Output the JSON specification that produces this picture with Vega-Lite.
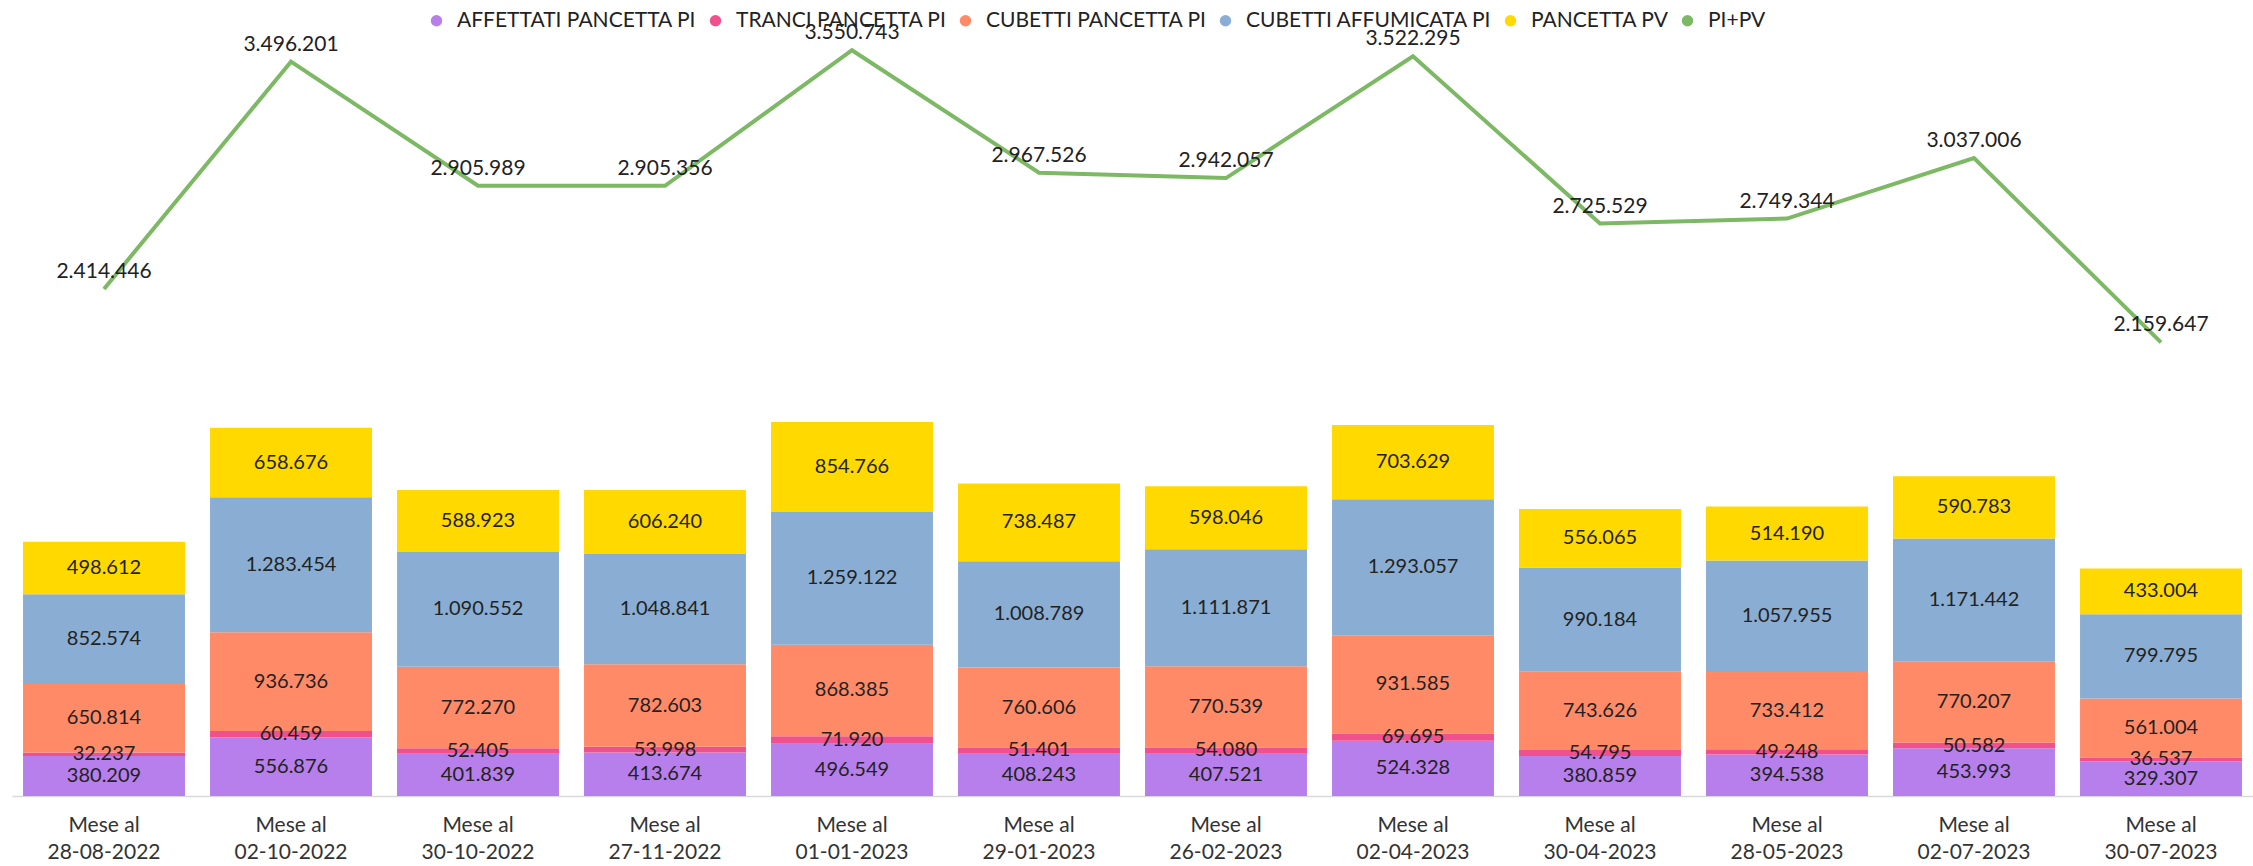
{
  "$schema": "https://vega.github.io/schema/vega-lite/v6.json",
  "width": 2241,
  "height": 754,
  "padding": {"left": 12, "top": 10, "right": 0, "bottom": 0},
  "autosize": {"type": "pad"},
  "background": "white",
  "config": {
    "locale": {"number": {"decimal": ",", "thousands": ".", "grouping": [3], "currency": ["", " €"]}},
    "view": {"stroke": null},
    "font": "Lato",
    "text": {"font": "Lato"}
  },
  "datasets": {
    "bars": [
      {"periodo": "Mese al 28-08-2022", "serie": "AFFETTATI PANCETTA PI", "valore": 380209},
      {"periodo": "Mese al 28-08-2022", "serie": "TRANCI PANCETTA PI", "valore": 32237},
      {"periodo": "Mese al 28-08-2022", "serie": "CUBETTI PANCETTA PI", "valore": 650814},
      {"periodo": "Mese al 28-08-2022", "serie": "CUBETTI AFFUMICATA PI", "valore": 852574},
      {"periodo": "Mese al 28-08-2022", "serie": "PANCETTA PV", "valore": 498612},
      {"periodo": "Mese al 02-10-2022", "serie": "AFFETTATI PANCETTA PI", "valore": 556876},
      {"periodo": "Mese al 02-10-2022", "serie": "TRANCI PANCETTA PI", "valore": 60459},
      {"periodo": "Mese al 02-10-2022", "serie": "CUBETTI PANCETTA PI", "valore": 936736},
      {"periodo": "Mese al 02-10-2022", "serie": "CUBETTI AFFUMICATA PI", "valore": 1283454},
      {"periodo": "Mese al 02-10-2022", "serie": "PANCETTA PV", "valore": 658676},
      {"periodo": "Mese al 30-10-2022", "serie": "AFFETTATI PANCETTA PI", "valore": 401839},
      {"periodo": "Mese al 30-10-2022", "serie": "TRANCI PANCETTA PI", "valore": 52405},
      {"periodo": "Mese al 30-10-2022", "serie": "CUBETTI PANCETTA PI", "valore": 772270},
      {"periodo": "Mese al 30-10-2022", "serie": "CUBETTI AFFUMICATA PI", "valore": 1090552},
      {"periodo": "Mese al 30-10-2022", "serie": "PANCETTA PV", "valore": 588923},
      {"periodo": "Mese al 27-11-2022", "serie": "AFFETTATI PANCETTA PI", "valore": 413674},
      {"periodo": "Mese al 27-11-2022", "serie": "TRANCI PANCETTA PI", "valore": 53998},
      {"periodo": "Mese al 27-11-2022", "serie": "CUBETTI PANCETTA PI", "valore": 782603},
      {"periodo": "Mese al 27-11-2022", "serie": "CUBETTI AFFUMICATA PI", "valore": 1048841},
      {"periodo": "Mese al 27-11-2022", "serie": "PANCETTA PV", "valore": 606240},
      {"periodo": "Mese al 01-01-2023", "serie": "AFFETTATI PANCETTA PI", "valore": 496549},
      {"periodo": "Mese al 01-01-2023", "serie": "TRANCI PANCETTA PI", "valore": 71920},
      {"periodo": "Mese al 01-01-2023", "serie": "CUBETTI PANCETTA PI", "valore": 868385},
      {"periodo": "Mese al 01-01-2023", "serie": "CUBETTI AFFUMICATA PI", "valore": 1259122},
      {"periodo": "Mese al 01-01-2023", "serie": "PANCETTA PV", "valore": 854766},
      {"periodo": "Mese al 29-01-2023", "serie": "AFFETTATI PANCETTA PI", "valore": 408243},
      {"periodo": "Mese al 29-01-2023", "serie": "TRANCI PANCETTA PI", "valore": 51401},
      {"periodo": "Mese al 29-01-2023", "serie": "CUBETTI PANCETTA PI", "valore": 760606},
      {"periodo": "Mese al 29-01-2023", "serie": "CUBETTI AFFUMICATA PI", "valore": 1008789},
      {"periodo": "Mese al 29-01-2023", "serie": "PANCETTA PV", "valore": 738487},
      {"periodo": "Mese al 26-02-2023", "serie": "AFFETTATI PANCETTA PI", "valore": 407521},
      {"periodo": "Mese al 26-02-2023", "serie": "TRANCI PANCETTA PI", "valore": 54080},
      {"periodo": "Mese al 26-02-2023", "serie": "CUBETTI PANCETTA PI", "valore": 770539},
      {"periodo": "Mese al 26-02-2023", "serie": "CUBETTI AFFUMICATA PI", "valore": 1111871},
      {"periodo": "Mese al 26-02-2023", "serie": "PANCETTA PV", "valore": 598046},
      {"periodo": "Mese al 02-04-2023", "serie": "AFFETTATI PANCETTA PI", "valore": 524328},
      {"periodo": "Mese al 02-04-2023", "serie": "TRANCI PANCETTA PI", "valore": 69695},
      {"periodo": "Mese al 02-04-2023", "serie": "CUBETTI PANCETTA PI", "valore": 931585},
      {"periodo": "Mese al 02-04-2023", "serie": "CUBETTI AFFUMICATA PI", "valore": 1293057},
      {"periodo": "Mese al 02-04-2023", "serie": "PANCETTA PV", "valore": 703629},
      {"periodo": "Mese al 30-04-2023", "serie": "AFFETTATI PANCETTA PI", "valore": 380859},
      {"periodo": "Mese al 30-04-2023", "serie": "TRANCI PANCETTA PI", "valore": 54795},
      {"periodo": "Mese al 30-04-2023", "serie": "CUBETTI PANCETTA PI", "valore": 743626},
      {"periodo": "Mese al 30-04-2023", "serie": "CUBETTI AFFUMICATA PI", "valore": 990184},
      {"periodo": "Mese al 30-04-2023", "serie": "PANCETTA PV", "valore": 556065},
      {"periodo": "Mese al 28-05-2023", "serie": "AFFETTATI PANCETTA PI", "valore": 394538},
      {"periodo": "Mese al 28-05-2023", "serie": "TRANCI PANCETTA PI", "valore": 49248},
      {"periodo": "Mese al 28-05-2023", "serie": "CUBETTI PANCETTA PI", "valore": 733412},
      {"periodo": "Mese al 28-05-2023", "serie": "CUBETTI AFFUMICATA PI", "valore": 1057955},
      {"periodo": "Mese al 28-05-2023", "serie": "PANCETTA PV", "valore": 514190},
      {"periodo": "Mese al 02-07-2023", "serie": "AFFETTATI PANCETTA PI", "valore": 453993},
      {"periodo": "Mese al 02-07-2023", "serie": "TRANCI PANCETTA PI", "valore": 50582},
      {"periodo": "Mese al 02-07-2023", "serie": "CUBETTI PANCETTA PI", "valore": 770207},
      {"periodo": "Mese al 02-07-2023", "serie": "CUBETTI AFFUMICATA PI", "valore": 1171442},
      {"periodo": "Mese al 02-07-2023", "serie": "PANCETTA PV", "valore": 590783},
      {"periodo": "Mese al 30-07-2023", "serie": "AFFETTATI PANCETTA PI", "valore": 329307},
      {"periodo": "Mese al 30-07-2023", "serie": "TRANCI PANCETTA PI", "valore": 36537},
      {"periodo": "Mese al 30-07-2023", "serie": "CUBETTI PANCETTA PI", "valore": 561004},
      {"periodo": "Mese al 30-07-2023", "serie": "CUBETTI AFFUMICATA PI", "valore": 799795},
      {"periodo": "Mese al 30-07-2023", "serie": "PANCETTA PV", "valore": 433004}
    ],
    "totals": [
      {"periodo": "Mese al 28-08-2022", "totale": 2414446},
      {"periodo": "Mese al 02-10-2022", "totale": 3496201},
      {"periodo": "Mese al 30-10-2022", "totale": 2905989},
      {"periodo": "Mese al 27-11-2022", "totale": 2905356},
      {"periodo": "Mese al 01-01-2023", "totale": 3550743},
      {"periodo": "Mese al 29-01-2023", "totale": 2967526},
      {"periodo": "Mese al 26-02-2023", "totale": 2942057},
      {"periodo": "Mese al 02-04-2023", "totale": 3522295},
      {"periodo": "Mese al 30-04-2023", "totale": 2725529},
      {"periodo": "Mese al 28-05-2023", "totale": 2749344},
      {"periodo": "Mese al 02-07-2023", "totale": 3037006},
      {"periodo": "Mese al 30-07-2023", "totale": 2159647}
    ]
  },
  "encoding": {
    "x": {
      "field": "periodo",
      "type": "nominal",
      "sort": null,
      "scale": {"paddingInner": 0.134, "paddingOuter": 0.059},
      "axis": {
        "title": null,
        "labelAngle": 0,
        "ticks": false,
        "domainColor": "#d9d9d9",
        "domainWidth": 1.5,
        "labelFont": "Lato",
        "labelFontSize": 21,
        "labelColor": "#333333",
        "labelPadding": 18,
        "labelLineHeight": 27,
        "labelExpr": "['Mese al', replace(datum.label, 'Mese al ', '')]"
      }
    }
  },
  "layer": [
    {
      "data": {"name": "bars"},
      "transform": [
        {"calculate": "indexof(['AFFETTATI PANCETTA PI','TRANCI PANCETTA PI','CUBETTI PANCETTA PI','CUBETTI AFFUMICATA PI','PANCETTA PV'], datum.serie)", "as": "ordine"}
      ],
      "layer": [
        {
          "mark": {"type": "bar"},
          "encoding": {
            "y": {"field": "valore", "type": "quantitative", "stack": "zero", "scale": {"domain": [0, 7160000], "nice": false}, "axis": null},
            "order": {"field": "ordine", "type": "quantitative", "sort": "ascending"},
            "color": {
              "field": "serie",
              "type": "nominal",
              "scale": {
                "domain": ["AFFETTATI PANCETTA PI", "TRANCI PANCETTA PI", "CUBETTI PANCETTA PI", "CUBETTI AFFUMICATA PI", "PANCETTA PV", "PI+PV"],
                "range": ["#B77FEB", "#F0508C", "#FF8A68", "#8AAED3", "#FFD900", "#7DB964"]
              },
              "legend": {
                "title": null,
                "orient": "none",
                "direction": "horizontal",
                "legendX": 414,
                "legendY": -32,
                "padding": 0,
                "symbolType": "circle",
                "symbolSize": 130,
                "symbolStrokeWidth": 0,
                "labelFont": "Lato",
                "labelFontSize": 21,
                "labelColor": "#222222",
                "labelOffset": 10,
                "columnPadding": 8,
                "labelLimit": 400
              }
            }
          }
        },
        {
          "mark": {"type": "text", "fontSize": 20, "color": "#222222", "baseline": "middle", "align": "center"},
          "encoding": {
            "y": {"field": "valore", "type": "quantitative", "stack": "zero", "bandPosition": 0.5},
            "order": {"field": "ordine", "type": "quantitative", "sort": "ascending"},
            "detail": {"field": "serie", "type": "nominal"},
            "text": {"field": "valore", "type": "quantitative", "format": ",d"}
          }
        }
      ]
    },
    {
      "data": {"name": "totals"},
      "layer": [
        {
          "mark": {"type": "line", "strokeWidth": 4},
          "encoding": {
            "y": {"field": "totale", "type": "quantitative", "scale": {"domain": [0, 3590000], "nice": false}, "axis": null},
            "color": {"datum": "PI+PV", "legend": null}
          }
        },
        {
          "mark": {"type": "text", "fontSize": 21, "color": "#222222", "baseline": "middle", "align": "center", "dy": -17},
          "encoding": {
            "y": {"field": "totale", "type": "quantitative"},
            "text": {"field": "totale", "type": "quantitative", "format": ",d"}
          }
        }
      ]
    }
  ],
  "resolve": {"scale": {"y": "independent"}}
}
